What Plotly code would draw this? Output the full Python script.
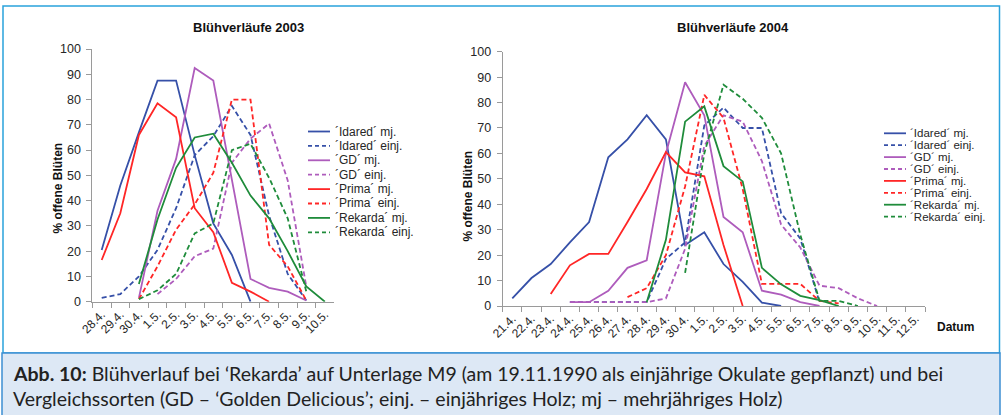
import plotly.graph_objects as go

W, H = 1002, 415

# ---------------- data ----------------
cats_2003 = ["28.4.", "29.4.", "30.4.", "1.5.", "2.5.", "3.5.", "4.5.", "5.5.",
             "6.5.", "7.5.", "8.5.", "9.5.", "10.5."]
cats_2004 = ["21.4.", "22.4.", "23.4.", "24.4.", "25.4.", "26.4.", "27.4.", "28.4.",
             "29.4.", "30.4.", "1.5.", "2.5.", "3.5.", "4.5.", "5.5.", "6.5.",
             "7.5.", "8.5.", "9.5.", "10.5.", "11.5.", "12.5."]

idared_mj_2003 = [20.5, 46, 67, 87.5, 87.5, 58, 31, 18.5, 0, None, None, None, None]
idared_einj_2003 = [1.5, 3, 10, 20.5, 37, 58, 65.5, 77.5, 66, 34, 11, 0.5, None]
gd_mj_2003 = [None, None, 1.5, 36, 56.5, 92.5, 87.5, 48, 9, 5.5, 4, 0.5, None]
gd_einj_2003 = [None, None, None, 3, 9, 18, 21, 55, 64.5, 70.5, 48, 6, None]
prima_mj_2003 = [16.5, 35, 66, 78.5, 73, 37, 27.5, 7.5, 4, 0, None, None, None]
prima_einj_2003 = [None, None, 1, 14, 28.5, 38.5, 51, 80, 80, 22.5, 14, 0.5, None]
rekarda_mj_2003 = [None, None, 7, 32.5, 53, 65, 66.5, 55, 42, 33, 20, 6, 0]
rekarda_einj_2003 = [None, None, 1, 4.5, 11, 27, 31, 60, 62.5, 49, 33, 4, None]

N = None
idared_mj_2004 = [3, 11, 16.5, 25, 33, 58.5, 65.5, 75, 65.5, 24, 29, 16.5, 9.5, 1.3, 0,
                  N, N, N, N, N, N, N]
idared_einj_2004 = [N, N, N, 1.5, 1.5, 1.5, 1.5, 1.5, 18.5, 25, 71, 78, 70, 70, 36.5, 26.5,
                    1.5, N, N, N, N, N]
gd_mj_2004 = [N, N, N, 1.5, 1.5, 6, 15, 18, 60, 88, 75, 35, 29, 6, 4.5, 1.5, 0,
              N, N, N, N, N]
gd_einj_2004 = [N, N, N, 1.5, 1.5, 1.5, 1.5, 1.5, 3, 22.5, 63, 75, 72.5, 57, 32, 23, 8, 7,
                3, 0, N, N]
prima_mj_2004 = [N, N, 4.7, 16, 20.5, 20.5, 33, 46, 60.5, 52.5, 51, 24, 0,
                 N, N, N, N, N, N, N, N, N]
prima_einj_2004 = [N, N, N, N, N, N, 3.5, 7, 20, 47, 83, 74, 46, 8.7, 8.7, 8.7, 2, 1,
                   N, N, N, N]
rekarda_mj_2004 = [N, N, N, N, N, N, N, 1.5, 26, 72.5, 78.5, 55, 49, 15, 8.5, 4, 2.3, 0,
                   N, N, N, N]
rekarda_einj_2004 = [N, N, N, N, N, N, N, N, N, 13, 60, 87, 81.5, 74, 60, 28, 2, 2, 0,
                     N, N, N]

series_names = ["´Idared´ mj.", "´Idared´ einj.", "´GD´ mj.", "´GD´ einj.",
                "´Prima´ mj.", "´Prima´ einj.", "´Rekarda´ mj.", "´Rekarda´ einj."]
series_2003 = [idared_mj_2003, idared_einj_2003, gd_mj_2003, gd_einj_2003,
               prima_mj_2003, prima_einj_2003, rekarda_mj_2003, rekarda_einj_2003]
series_2004 = [idared_mj_2004, idared_einj_2004, gd_mj_2004, gd_einj_2004,
               prima_mj_2004, prima_einj_2004, rekarda_mj_2004, rekarda_einj_2004]

# ---------------- styles ----------------
C_BLUE, C_PURPLE, C_RED, C_GREEN = "#3650A8", "#AE5CBC", "#FF2626", "#1F8C3B"
colors = [C_BLUE, C_BLUE, C_PURPLE, C_PURPLE, C_RED, C_RED, C_GREEN, C_GREEN]
dashes = ["solid", "5px,3px"] * 4
LW = 1.8
FONT = "Liberation Sans, Arial, sans-serif"
AXC = "#9a9a9a"
TXT = "#262626"


def px(x):
    return x / W


def py(y):
    return 1 - y / H


fig = go.Figure()
for name, vals, col, d in zip(series_names, series_2003, colors, dashes):
    fig.add_trace(go.Scatter(x=cats_2003, y=vals, mode="lines", name=name,
                             line=dict(color=col, width=LW, dash=d),
                             xaxis="x", yaxis="y", showlegend=False))
for name, vals, col, d in zip(series_names, series_2004, colors, dashes):
    fig.add_trace(go.Scatter(x=cats_2004, y=vals, mode="lines", name=name,
                             line=dict(color=col, width=LW, dash=d),
                             xaxis="x2", yaxis="y2", showlegend=False))

xcommon = dict(type="category", showline=True, linecolor=AXC, linewidth=1,
               ticks="outside", ticklen=5, tickcolor=AXC, tickson="boundaries",
               tickangle=-45, showgrid=False, zeroline=False, automargin=False,
               tickfont=dict(family=FONT, size=12, color=TXT), fixedrange=True)
ycommon = dict(range=[0, 100], dtick=10, showline=True, linecolor=AXC, linewidth=1,
               ticks="outside", ticklen=5, tickcolor=AXC, showgrid=False,
               zeroline=False, automargin=False,
               tickfont=dict(family=FONT, size=12.5, color=TXT),
               ticklabelstandoff=3, fixedrange=True)

fig.update_layout(
    width=W, height=H, autosize=False,
    margin=dict(l=0, r=0, t=0, b=0, pad=0),
    paper_bgcolor="white", plot_bgcolor="white",
    showlegend=False,
    xaxis=dict(xcommon, domain=[px(92.4), px(334.2)], anchor="y",
               categoryorder="array", categoryarray=cats_2003,
               range=[-0.5, len(cats_2003) - 0.5]),
    yaxis=dict(ycommon, domain=[py(301.7), py(49)], anchor="x"),
    xaxis2=dict(xcommon, domain=[px(502.7), px(925.1)], anchor="y2",
                categoryorder="array", categoryarray=cats_2004,
                range=[-0.5, len(cats_2004) - 0.5]),
    yaxis2=dict(ycommon, domain=[py(306), py(51.7)], anchor="x2"),
)

shapes = []
annotations = []

# outer frame of the chart area
shapes.append(dict(type="rect", xref="paper", yref="paper",
                   x0=px(3), x1=px(999.5), y0=py(353), y1=py(6),
                   line=dict(color="#2AA2DC", width=1.5), fillcolor="rgba(0,0,0,0)",
                   layer="below"))
# caption box
shapes.append(dict(type="rect", xref="paper", yref="paper",
                   x0=px(2), x1=px(1000), y0=py(416), y1=py(353),
                   line=dict(color="#3C8FD2", width=1.5), fillcolor="#DDE8F5",
                   layer="below"))

# titles
annotations.append(dict(text="<b>Blühverläufe 2003</b>", xref="paper", yref="paper",
                        x=px(248), y=py(28), xanchor="center", yanchor="middle",
                        showarrow=False, font=dict(family=FONT, size=13, color="#111")))
annotations.append(dict(text="<b>Blühverläufe 2004</b>", xref="paper", yref="paper",
                        x=px(733), y=py(28), xanchor="center", yanchor="middle",
                        showarrow=False, font=dict(family=FONT, size=13, color="#111")))
# y-axis titles
for xc, yc in [(58, 188.5), (467.5, 196)]:
    annotations.append(dict(text="<b>% offene Blüten</b>", xref="paper", yref="paper",
                            x=px(xc), y=py(yc), xanchor="center", yanchor="middle",
                            textangle=-90, showarrow=False,
                            font=dict(family=FONT, size=12, color="#111")))
# x-axis title (right chart)
annotations.append(dict(text="<b>Datum</b>", xref="paper", yref="paper",
                        x=px(935), y=py(327), xanchor="left", yanchor="middle",
                        showarrow=False, font=dict(family=FONT, size=12, color="#111")))

# manual legends
legend_specs = [
    dict(x0=308, x1=330, xt=333, y0=131.5, step=14.4, fs=12),
    dict(x0=884, x1=906, xt=908, y0=133.3, step=11.9, fs=11.5),
]
for spec in legend_specs:
    for i, (name, col, d) in enumerate(zip(series_names, colors, dashes)):
        yy = spec["y0"] + i * spec["step"]
        shapes.append(dict(type="line", xref="paper", yref="paper",
                           x0=px(spec["x0"]), x1=px(spec["x1"]), y0=py(yy), y1=py(yy),
                           line=dict(color=col, width=LW,
                                     dash=("solid" if d == "solid" else "4px,3px"))))
        annotations.append(dict(text=name, xref="paper", yref="paper",
                                x=px(spec["xt"]), y=py(yy), xanchor="left",
                                yanchor="middle", showarrow=False,
                                font=dict(family=FONT, size=spec["fs"], color=TXT)))

# caption
CAP_FONT = "Lato, Open Sans, sans-serif"
annotations.append(dict(
    text="<b>Abb. 10:</b> Blühverlauf bei ‘Rekarda’ auf Unterlage M9 (am 19.11.1990 als "
         "einjährige Okulate gepflanzt) und bei",
    xref="paper", yref="paper", x=px(11), y=py(373), xanchor="left", yanchor="middle",
    showarrow=False, font=dict(family=CAP_FONT, size=19.5, color="#222")))
annotations.append(dict(
    text="Vergleichssorten (GD – ‘Golden Delicious’; einj. – einjähriges Holz; "
         "mj – mehrjähriges Holz)",
    xref="paper", yref="paper", x=px(11), y=py(398), xanchor="left", yanchor="middle",
    showarrow=False, font=dict(family=CAP_FONT, size=19.5, color="#222")))

fig.update_layout(shapes=shapes, annotations=annotations)

post = ("document.documentElement.style.margin='0';"
        "document.body.style.margin='0';document.body.style.padding='0';"
        "document.body.style.overflow='hidden';"
        "var gd=document.getElementById('{plot_id}');"
        "gd.style.width='1002px';gd.style.height='415px';"
        "Plotly.relayout(gd,{width:1002,height:415,autosize:false});")

fig.write_html("out.html", config={"responsive": False, "displayModeBar": False},
               post_script=post)
